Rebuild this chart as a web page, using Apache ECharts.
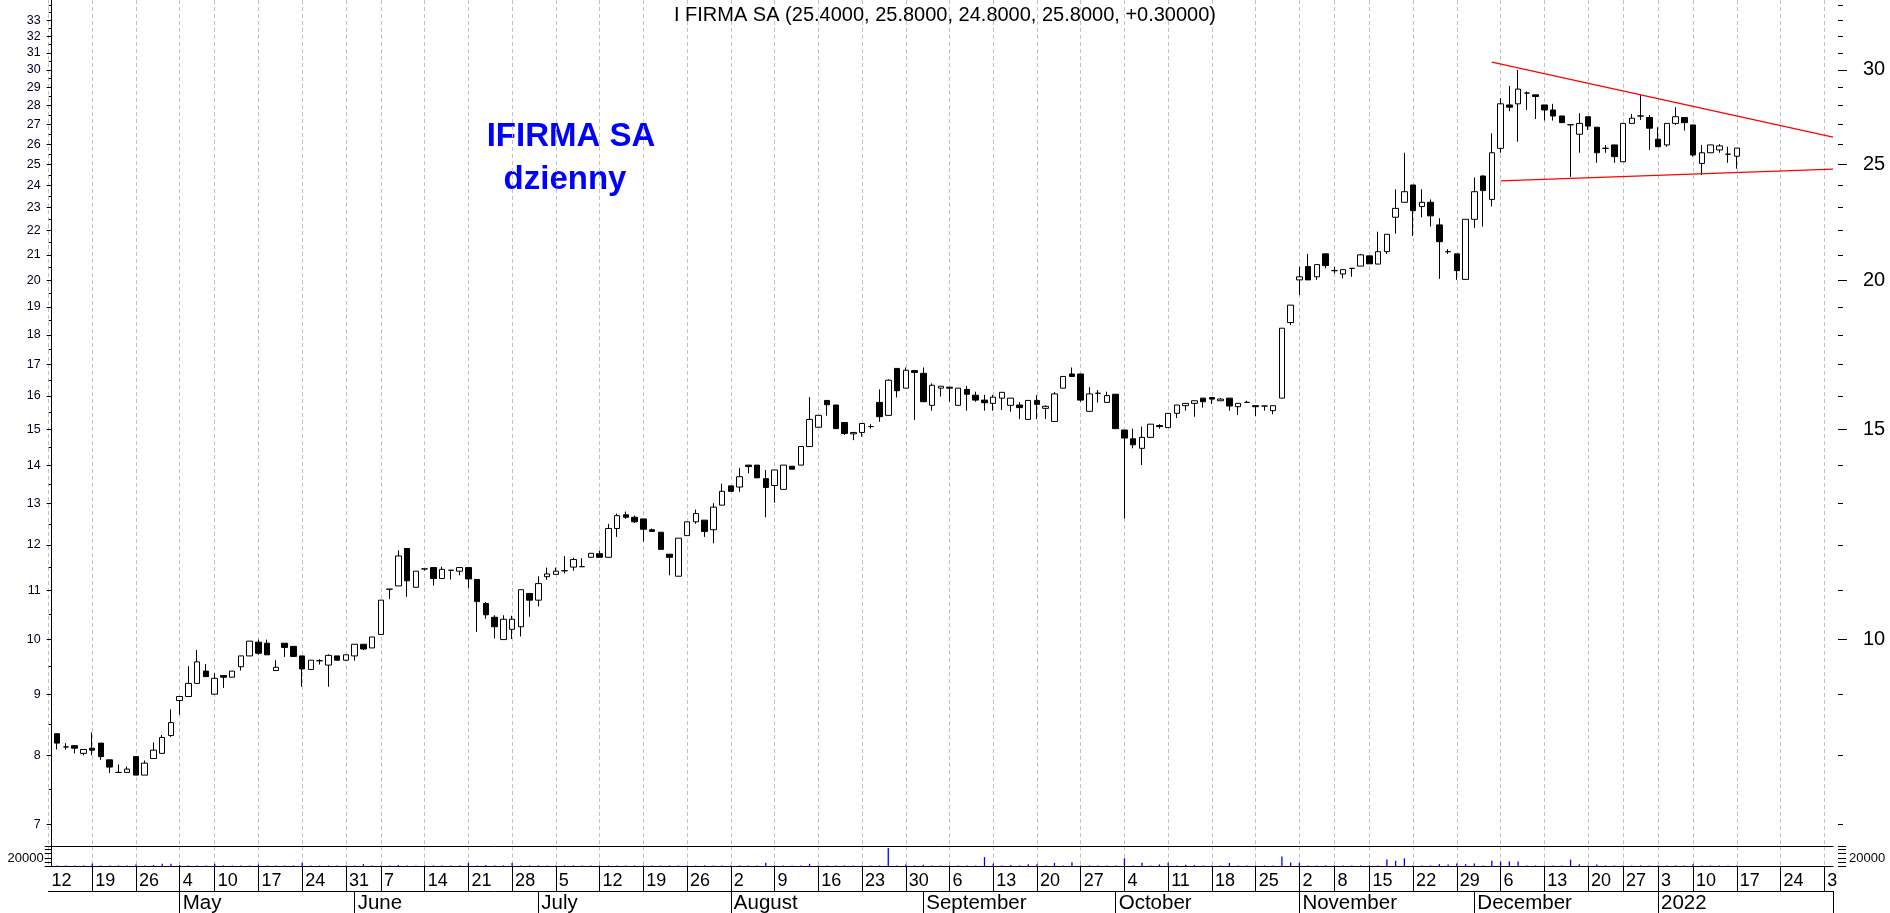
<!DOCTYPE html>
<html><head><meta charset="utf-8">
<script src="https://cdn.jsdelivr.net/npm/echarts@6/dist/echarts.min.js"></script>
<style>html,body{margin:0;padding:0;background:#fff}#c{width:1890px;height:913px}</style>
</head><body><div id="c"></div>
<script>
// ---------- calendar / categories ----------
const firstDay = '2021-04-12';
const lastDay = '2022-02-01';
const holidays = ['2021-05-03','2021-06-03','2021-11-01','2021-11-11','2021-12-24','2021-12-31','2022-01-06'];
const dates = [];
for (let d = new Date(firstDay + 'T00:00:00Z'); d <= new Date(lastDay + 'T00:00:00Z'); d.setUTCDate(d.getUTCDate() + 1)) {
  const wd = d.getUTCDay(); const s = d.toISOString().slice(0, 10);
  if (wd === 0 || wd === 6 || holidays.includes(s)) continue;
  dates.push(s);
}
// month row labels, January..December
const monthNames = ['2022','','','','May','June','July','August','September','October','November','December'];

// ---------- OHLC (open, high, low, close), first row = 2021-04-13 ----------
const ohlc = [
[8.34,8.34,8.09,8.19],[8.13,8.19,8.09,8.13],[8.15,8.15,8.03,8.11],[8.03,8.09,8.00,8.09],[8.11,8.36,8.00,8.08],
[8.19,8.19,7.93,7.98],[7.93,7.93,7.73,7.82],[7.74,7.86,7.74,7.74],[7.74,7.83,7.74,7.79],[7.98,7.98,7.70,7.70],
[7.70,7.92,7.70,7.88],[7.95,8.20,7.95,8.08],[8.03,8.32,8.03,8.28],[8.31,8.74,8.29,8.52],[8.89,8.97,8.65,8.96],
[8.96,9.50,8.96,9.19],[9.19,9.80,9.19,9.58],[9.41,9.54,9.31,9.31],[9.00,9.37,9.00,9.28],[9.33,9.34,9.11,9.30],
[9.30,9.41,9.30,9.41],[9.49,9.69,9.42,9.69],[9.69,9.97,9.69,9.97],[9.95,10.00,9.71,9.74],[9.93,10.00,9.71,9.71],
[9.42,9.61,9.42,9.48],[9.93,9.93,9.67,9.85],[9.87,9.87,9.68,9.68],[9.69,9.69,9.13,9.45],[9.44,9.61,9.44,9.61],
[9.60,9.63,9.53,9.60],[9.52,9.72,9.13,9.70],[9.69,9.69,9.61,9.61],[9.61,9.71,9.60,9.71],[9.69,9.91,9.60,9.91],
[9.91,9.91,9.80,9.82],[9.84,10.05,9.84,10.05],[10.10,10.79,10.10,10.79],[11.02,11.02,10.81,11.02],[11.09,11.88,11.09,11.75],
[11.92,11.92,10.86,11.20],[11.06,11.41,11.06,11.41],[11.46,11.46,11.42,11.46],[11.49,11.49,11.10,11.25],[11.25,11.51,11.25,11.45],
[11.43,11.43,11.23,11.43],[11.41,11.49,11.32,11.49],[11.49,11.49,11.04,11.24],[11.23,11.23,10.15,10.76],[10.72,10.75,10.41,10.49],
[10.44,10.48,10.02,10.25],[10.00,10.48,10.00,10.40],[10.20,10.47,10.01,10.40],[10.25,11.01,10.06,11.01],[10.93,10.93,10.45,10.79],
[10.79,11.30,10.66,11.14],[11.29,11.49,11.22,11.35],[11.34,11.49,11.34,11.41],[11.42,11.75,11.36,11.42],[11.50,11.71,11.42,11.67],
[11.51,11.70,11.51,11.51],[11.72,11.81,11.72,11.81],[11.80,11.87,11.72,11.72],[11.72,12.50,11.72,12.39],[12.39,12.75,12.19,12.70],
[12.72,12.80,12.62,12.66],[12.66,12.70,12.52,12.55],[12.62,12.62,12.08,12.37],[12.36,12.39,12.32,12.32],[12.30,12.30,11.90,11.90],
[11.79,11.79,11.32,11.72],[11.30,12.16,11.30,12.16],[12.22,12.55,12.22,12.55],[12.55,12.85,12.50,12.75],[12.59,12.59,12.19,12.32],
[12.36,13.01,12.04,12.91],[12.96,13.51,12.96,13.31],[13.45,13.45,13.31,13.31],[13.42,13.92,13.30,13.69],[14.00,14.00,13.78,13.96],
[14.00,14.00,13.66,13.66],[13.64,13.87,12.66,13.41],[13.46,13.87,13.02,13.87],[13.36,14.00,13.36,14.00],[13.97,13.97,13.89,13.89],
[14.00,14.51,14.00,14.51],[14.51,15.96,14.51,15.29],[15.06,15.41,15.06,15.41],[15.86,15.86,15.40,15.73],[15.72,15.72,15.02,15.02],
[15.20,15.20,14.84,14.88],[14.87,14.91,14.69,14.91],[14.91,15.17,14.79,15.17],[15.08,15.15,15.02,15.08],[15.80,16.20,15.22,15.37],
[15.41,16.52,15.41,16.49],[16.87,16.87,15.95,16.16],[16.24,16.90,16.24,16.81],[16.80,16.80,15.27,16.74],[16.71,16.90,15.82,15.82],
[15.71,16.39,15.55,16.33],[16.24,16.30,15.98,16.30],[16.27,16.27,15.82,16.24],[15.71,16.24,15.71,16.24],[16.20,16.31,15.55,16.05],
[16.02,16.13,15.82,15.87],[15.87,16.03,15.55,15.79],[15.77,16.03,15.55,15.96],[15.93,16.11,15.57,16.11],[15.71,15.93,15.52,15.93],
[15.72,15.81,15.30,15.64],[15.29,15.86,15.29,15.86],[15.86,16.02,15.30,15.74],[15.62,15.71,15.30,15.68],[15.23,16.12,15.23,16.06],
[16.24,16.61,16.24,16.61],[16.69,16.90,16.61,16.61],[16.69,16.69,15.82,15.87],[15.53,16.27,15.53,16.06],[16.08,16.18,15.80,16.08],
[15.80,16.13,15.80,16.01],[16.05,16.05,15.02,15.02],[14.98,14.98,12.63,14.75],[14.73,15.02,14.46,14.56],[14.46,15.08,14.00,14.77],
[14.77,15.15,14.77,15.15],[15.11,15.15,15.02,15.08],[15.05,15.47,15.05,15.47],[15.47,15.72,15.33,15.72],[15.70,15.77,15.55,15.77],
[15.77,15.85,15.37,15.85],[15.93,15.93,15.64,15.82],[15.95,15.95,15.75,15.90],[15.85,15.93,15.85,15.90],[15.93,15.93,15.55,15.69],
[15.67,15.77,15.42,15.77],[15.80,15.85,15.80,15.80],[15.70,15.70,15.39,15.67],[15.69,15.69,15.55,15.69],[15.55,15.70,15.44,15.70],
[15.93,18.23,15.93,18.23],[18.43,19.06,18.34,19.06],[20.01,20.53,19.43,20.13],[20.53,21.04,20.01,20.01],[20.13,20.61,20.01,20.61],
[21.04,21.04,20.46,20.57],[20.37,20.52,20.26,20.37],[20.24,20.41,20.07,20.41],[20.46,20.46,20.13,20.46],[20.55,21.04,20.55,21.00],
[20.96,20.96,20.64,20.64],[20.63,21.96,20.63,21.13],[21.13,21.85,21.04,21.85],[22.58,23.83,21.88,22.97],[23.24,25.57,23.24,23.72],
[24.03,24.03,21.78,22.87],[23.05,23.83,22.58,23.24],[23.24,23.37,22.18,22.64],[22.25,22.54,20.05,21.54],[21.13,21.23,21.04,21.13],
[21.04,21.04,20.01,20.37],[20.03,22.49,20.03,22.49],[22.49,24.38,22.11,23.72],[24.45,24.48,22.18,23.77],[23.37,26.55,23.05,25.57],
[25.79,28.41,25.57,28.10],[28.04,29.09,27.70,27.92],[28.10,30.00,26.12,28.91],[28.69,28.78,27.77,28.69],[28.59,28.59,27.29,28.50],
[28.04,28.04,27.21,27.77],[27.77,28.10,27.21,27.45],[27.45,27.45,27.10,27.10],[26.99,26.99,24.41,26.99],[26.50,27.60,25.57,27.06],
[27.41,27.41,26.72,26.92],[26.86,26.86,25.08,25.57],[25.79,25.96,25.57,25.79],[25.96,25.96,25.08,25.38],[25.13,27.06,25.13,27.06],
[27.06,27.56,27.06,27.33],[27.45,28.59,27.24,27.45],[27.37,27.50,25.71,26.81],[26.25,26.86,25.87,25.87],[25.96,27.06,25.87,27.06],
[27.06,27.92,26.98,27.41],[27.37,27.37,26.69,27.10],[26.98,26.98,25.38,25.46],[25.05,25.96,24.49,25.57],[25.57,25.96,25.57,25.96],
[25.71,26.00,25.57,25.91],[25.50,25.87,25.08,25.50],[25.40,25.80,24.80,25.80]
];
const firstBarIndex = 1;

// ---------- volume, first value = 2021-04-13 ----------
const volumes = [
3000,3000,3000,3000,7400,3000,3000,3000,3000,5300,
3000,3900,6900,6900,3900,3000,3000,3000,6900,3000,
3000,3000,3000,5300,3000,3000,3000,3000,8900,3000,
3000,3000,3000,3000,3000,6000,3000,3000,3000,3900,
3000,3000,3000,3000,3000,3000,3000,8500,3000,3900,
3000,3000,8500,3000,3000,3000,3000,3000,3000,3000,
3000,3000,3000,3000,3000,3000,3000,3000,3000,3000,
3000,3000,3000,3000,3000,3000,3000,3000,3000,3000,
3000,8900,3000,3000,3000,3000,6700,3000,3000,3000,
3000,3000,3000,3000,3000,43000,3000,5200,3000,4500,
3000,3000,3000,3000,3000,3000,22000,7400,3000,3700,
3000,5900,5900,3000,8900,3000,10400,3000,3000,3000,
3000,3000,19300,3000,8900,3000,5200,8900,3000,4500,
3700,3000,3000,3000,8900,3000,3000,3000,3000,3000,
23700,9600,8900,3000,3000,3000,3000,3000,3000,3000,
3000,3000,16300,13400,19300,3000,3000,3000,5900,5200,
7400,5900,7400,3000,13400,11900,11900,11900,3000,3000,
3000,3000,3000,16300,5900,3000,5200,3000,3000,3000,
3000,3000,3000,3000,3000,3000,3000,5900,3000,3000,
3000,3000,3000
];

// ---------- trend lines: [category index, price] ----------
const upperTrend = [[165, 30.46], [204, 26.35]];
const lowerTrend = [[166, 24.22], [204, 24.78]];

// ---------- axis values ----------
const priceMin = 6.707, priceMax = 34.33;
const leftLabels = []; for (let v = 7; v <= 33; v++) leftLabels.push(v);
const leftMinor = []; for (let v = 7.5; v <= 34; v += 0.5) if (v % 1 !== 0 || v === 34) leftMinor.push(v);
const rightLabels = [10, 15, 20, 25, 30];
const rightMinor = []; for (let v = 7; v <= 34; v++) rightMinor.push(v);
const volMax = 46000, volStep = 10000, volLabel = 20000;

const titleText = 'I FIRMA SA (25.4000, 25.8000, 24.8000, 25.8000, +0.30000)';
const noteLines = ['IFIRMA SA', 'dzienny'];

// ---------- derived ----------
const wd = s => new Date(s + 'T00:00:00Z').getUTCDay();
const weekStart = dates.map((s, i) => i === 0 || wd(s) <= wd(dates[i - 1]));
const monthStart = dates.map((s, i) => i > 0 && s.slice(5, 7) !== dates[i - 1].slice(5, 7));
const dayText = i => (i === dates.length - 2 ? '3' : String(+dates[i].slice(8, 10)));
const monthText = i => monthNames[(+dates[i].slice(5, 7)) - 1];

const candleData = dates.map((d, i) => {
  const r = ohlc[i - firstBarIndex];
  return r ? [r[0], r[3], r[2], r[1]] : '-';
});
const volData = dates.map((d, i) => { const v = volumes[i - firstBarIndex]; return v == null ? '-' : v; });

const FONT = '"Liberation Sans", Arial, sans-serif';
const gridL = 48.5, gridW = 1784.5;
const dash = { show: true, interval: (i) => weekStart[i], lineStyle: { color: '#c2c2c2', type: [4, 3], width: 1 } };

const chart = echarts.init(document.getElementById('c'), null, { renderer: 'canvas' });
chart.setOption({
  animation: false,
  backgroundColor: '#ffffff',
  textStyle: { fontFamily: FONT },
  title: { text: titleText, left: 'center', top: 5, padding: 0,
    textStyle: { fontFamily: FONT, fontSize: 20, fontWeight: 'normal', color: '#000' } },
  graphic: [
    { type: 'text', x: 571, y: 137, style: { text: noteLines[0], font: 'bold 33px ' + FONT, fill: '#0000ff', textAlign: 'center', textVerticalAlign: 'middle' } },
    { type: 'text', x: 565, y: 180, style: { text: noteLines[1], font: 'bold 33px ' + FONT, fill: '#0000ff', textAlign: 'center', textVerticalAlign: 'middle' } }
  ],
  grid: [
    { left: gridL, width: gridW, top: 0, height: 846.7 },
    { left: gridL, width: gridW, top: 846.7, height: 20 },
    { left: gridL, width: gridW, top: 891, height: 22 }
  ],
  xAxis: [
    { type: 'category', gridIndex: 0, data: dates, boundaryGap: false,
      axisLine: { show: true, onZero: false, lineStyle: { color: '#000', width: 1 } },
      axisTick: { show: false }, axisLabel: { show: false }, splitLine: dash },
    { type: 'category', gridIndex: 1, data: dates, boundaryGap: false,
      axisLine: { show: true, onZero: false, lineStyle: { color: '#000', width: 1 } },
      axisTick: { show: true, interval: (i) => weekStart[i] && i > 0, length: 24.3, lineStyle: { color: '#000' } },
      axisLabel: { show: true, interval: (i) => weekStart[i], formatter: (v, i) => dayText(i),
        fontSize: 18, color: '#000', fontFamily: FONT, align: 'left', margin: 5, padding: [0, 0, 0, 3] },
      splitLine: dash },
    { type: 'category', gridIndex: 2, data: dates, boundaryGap: false, position: 'top',
      axisLine: { show: true, onZero: false, lineStyle: { color: '#000', width: 1 } },
      axisTick: { show: true, inside: true, interval: (i) => monthStart[i], length: 22, lineStyle: { color: '#000' } },
      axisLabel: { show: true, inside: true, interval: (i) => monthStart[i], formatter: (v, i) => monthText(i),
        fontSize: 20.5, color: '#000', fontFamily: FONT, align: 'left', margin: 2, padding: [0, 0, 0, 3] },
      splitLine: { show: false } }
  ],
  yAxis: [
    { type: 'log', gridIndex: 0, min: priceMin, max: priceMax, logBase: 10, position: 'left', offset: -3.2,
      axisLine: { show: true, lineStyle: { color: '#000' } },
      axisTick: { show: true, length: 5, customValues: leftLabels, lineStyle: { color: '#000' } },
      axisLabel: { show: true, customValues: leftLabels, formatter: v => String(Math.round(v)), fontSize: 12.5, color: '#000022', margin: 11, fontFamily: FONT },
      splitLine: { show: false }, minorTick: { show: false } },
    { type: 'log', gridIndex: 0, min: priceMin, max: priceMax, logBase: 10, position: 'left', offset: -3.2,
      axisLine: { show: false },
      axisTick: { show: true, length: 3, customValues: leftMinor, lineStyle: { color: '#000' } },
      axisLabel: { show: false }, splitLine: { show: false } },
    { type: 'log', gridIndex: 0, min: priceMin, max: priceMax, logBase: 10, position: 'right', offset: 5,
      axisLine: { show: false },
      axisTick: { show: true, length: 9, customValues: rightLabels, lineStyle: { color: '#000' } },
      axisLabel: { show: true, customValues: rightLabels, formatter: v => String(Math.round(v)), fontSize: 20, color: '#000', margin: 25, fontFamily: FONT },
      splitLine: { show: false } },
    { type: 'log', gridIndex: 0, min: priceMin, max: priceMax, logBase: 10, position: 'right', offset: 5,
      axisLine: { show: false },
      axisTick: { show: true, length: 5, customValues: rightMinor, lineStyle: { color: '#000' } },
      axisLabel: { show: false }, splitLine: { show: false } },
    { type: 'value', gridIndex: 1, min: 0, max: volMax, interval: volStep, position: 'left', offset: -3.2,
      axisLine: { show: true, lineStyle: { color: '#000' } },
      axisTick: { show: true, length: 7, lineStyle: { color: '#000' } },
      axisLabel: { show: true, formatter: v => (v === volLabel ? String(volLabel) : ''), fontSize: 13, color: '#000', margin: 8, fontFamily: FONT },
      splitLine: { show: false } },
    { type: 'value', gridIndex: 1, min: 0, max: volMax, interval: volStep, position: 'right', offset: 5,
      axisLine: { show: false },
      axisTick: { show: true, length: 8, lineStyle: { color: '#000' } },
      axisLabel: { show: true, formatter: v => (v === volLabel ? String(volLabel) : ''), fontSize: 13, color: '#000', margin: 11, fontFamily: FONT },
      splitLine: { show: false } },
    { type: 'value', gridIndex: 2, show: false }
  ],
  series: [
    { type: 'candlestick', xAxisIndex: 0, yAxisIndex: 0, data: candleData, barWidth: 6,
      itemStyle: { color: '#ffffff', color0: '#000000', borderColor: '#000000', borderColor0: '#000000', borderWidth: 1 },
      emphasis: { disabled: true } },
    { type: 'line', xAxisIndex: 0, yAxisIndex: 0, data: upperTrend, symbol: 'none', z: 5,
      lineStyle: { color: '#ff0000', width: 1.3 }, emphasis: { disabled: true } },
    { type: 'line', xAxisIndex: 0, yAxisIndex: 0, data: lowerTrend, symbol: 'none', z: 5,
      lineStyle: { color: '#ff0000', width: 1.3 }, emphasis: { disabled: true } },
    { type: 'bar', xAxisIndex: 1, yAxisIndex: 4, data: volData, barWidth: 1.3,
      itemStyle: { color: '#0000ff' }, emphasis: { disabled: true } }
  ]
});
</script>
</body></html>
